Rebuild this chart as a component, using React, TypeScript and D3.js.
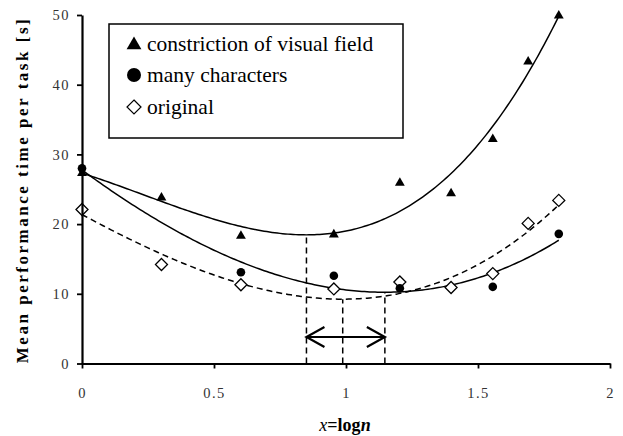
import React, { useRef, useEffect } from 'react';
import * as d3 from 'd3';

// x = log n
const logN = [0, 0.301, 0.602, 0.954, 1.204, 1.398, 1.556, 1.69, 1.806];
const visualField = [27.3, 23.8, 18.3, 18.5, 25.9, 24.4, 32.2, 43.3, 49.9];
const manyCharsX = [0, 0.602, 0.954, 1.204, 1.556, 1.806];
const manyChars = [28.0, 13.1, 12.6, 10.8, 11.0, 18.6];
const original = [22.1, 14.2, 11.3, 10.7, 11.7, 10.9, 12.9, 20.1, 23.4];

const xTicks = [0, 0.5, 1, 1.5, 2];
const yTicks = [0, 10, 20, 30, 40, 50];
const legendLabels = ['constriction of visual field', 'many characters', 'original'];
const arrowLevel = 3.8;

const SERIF = "'Liberation Serif', 'Times New Roman', 'DejaVu Serif', serif";

// least squares cubic (excel style polynomial trendline)
function cubicFit(xs: number[], ys: number[]): number[] {
  const n = 4;
  const A = Array.from({ length: n }, () => new Array(n + 1).fill(0));
  xs.forEach((x, k) => {
    for (let i = 0; i < n; i++) {
      for (let j = 0; j < n; j++) A[i][j] += Math.pow(x, i + j);
      A[i][n] += Math.pow(x, i) * ys[k];
    }
  });
  for (let i = 0; i < n; i++) {
    let p = i;
    for (let r = i + 1; r < n; r++) if (Math.abs(A[r][i]) > Math.abs(A[p][i])) p = r;
    [A[i], A[p]] = [A[p], A[i]];
    for (let r = 0; r < n; r++) {
      if (r === i) continue;
      const f = A[r][i] / A[i][i];
      for (let c = i; c <= n; c++) A[r][c] -= f * A[i][c];
    }
  }
  return A.map((row, i) => row[n] / row[i]);
}

const evalPoly = (c: number[], x: number) => c[0] + c[1] * x + c[2] * x * x + c[3] * x * x * x;

const polyMin = (c: number[]) => {
  const a = 3 * c[3], b = 2 * c[2], cc = c[1];
  return (-b + Math.sqrt(b * b - 4 * a * cc)) / (2 * a);
};

const Chart: React.FC = () => {
  const svgRef = useRef<SVGSVGElement | null>(null);

  useEffect(() => {
    if (!svgRef.current) return;
    const svg = d3.select(svgRef.current);
    svg.selectAll('*').remove();

    const x = d3.scaleLinear().domain([0, 2]).range([82, 610]);
    const y = d3.scaleLinear().domain([0, 50]).range([363.5, 15]);

    // fits
    const fitTri = cubicFit(logN, visualField);
    const fitCirc = cubicFit(manyCharsX, manyChars);
    const fitDia = cubicFit(logN, original);
    const xMax = d3.max(logN) as number;
    const samples = d3.range(0, xMax + 0.0001, 0.01).concat([xMax]);

    const line = (c: number[]) =>
      d3.line<number>().x(d => x(d)).y(d => y(evalPoly(c, d)))(samples);

    // minimum markers (dashed verticals)
    const mins = [fitTri, fitDia, fitCirc].map(c => {
      const m = polyMin(c);
      return { x: m, y: evalPoly(c, m) };
    });
    svg.append('g')
      .selectAll('line')
      .data(mins)
      .join('line')
      .attr('x1', d => x(d.x)).attr('x2', d => x(d.x))
      .attr('y1', y(0)).attr('y2', d => y(d.y))
      .attr('stroke', '#000').attr('stroke-width', 1.5)
      .attr('stroke-dasharray', '6,4');

    // arrow between the outer minima
    const ax1 = x(mins[0].x), ax2 = x(mins[2].x), ay = y(arrowLevel);
    svg.append('path')
      .attr('d', `M${ax1},${ay}H${ax2}M${ax1 + 18},${ay - 10}L${ax1},${ay}L${ax1 + 18},${ay + 10}M${ax2 - 18},${ay - 10}L${ax2},${ay}L${ax2 - 18},${ay + 10}`)
      .attr('fill', 'none').attr('stroke', '#000').attr('stroke-width', 2.2);

    // trend curves
    svg.append('path').attr('d', line(fitTri)!).attr('fill', 'none').attr('stroke', '#000').attr('stroke-width', 1.5);
    svg.append('path').attr('d', line(fitCirc)!).attr('fill', 'none').attr('stroke', '#000').attr('stroke-width', 1.5);
    svg.append('path').attr('d', line(fitDia)!).attr('fill', 'none').attr('stroke', '#000').attr('stroke-width', 1.5)
      .attr('stroke-dasharray', '6,4');

    // markers
    const tri = d3.symbol().type(d3.symbolTriangle).size(42);
    const dia = (s: number) => `M0,${-s}L${s},0L0,${s}L${-s},0Z`;

    svg.append('g').selectAll('path')
      .data(logN.map((v, i) => [v, original[i]]))
      .join('path')
      .attr('transform', d => `translate(${x(d[0])},${y(d[1])})`)
      .attr('d', dia(6))
      .attr('fill', '#fff').attr('stroke', '#000').attr('stroke-width', 1.3);

    svg.append('g').selectAll('circle')
      .data(manyCharsX.map((v, i) => [v, manyChars[i]]))
      .join('circle')
      .attr('cx', d => x(d[0])).attr('cy', d => y(d[1])).attr('r', 4.3)
      .attr('fill', '#000');

    svg.append('g').selectAll('path')
      .data(logN.map((v, i) => [v, visualField[i]]))
      .join('path')
      .attr('transform', d => `translate(${x(d[0])},${y(d[1])})`)
      .attr('d', tri()!)
      .attr('fill', '#000');

    // axes
    const xAxis = svg.append('g')
      .attr('transform', `translate(0,${y(0)})`)
      .call(d3.axisBottom(x).tickValues(xTicks).tickSize(5).tickSizeOuter(0).tickPadding(19)
        .tickFormat(d => String(d)));
    const yAxis = svg.append('g')
      .attr('transform', `translate(${x(0)},0)`)
      .call(d3.axisLeft(y).tickValues(yTicks).tickSize(5).tickSizeOuter(0).tickPadding(7));
    [xAxis, yAxis].forEach(g => {
      g.attr('font-family', null).attr('font-size', null);
      g.select('.domain').attr('stroke', '#000').attr('stroke-width', 2.2);
      g.selectAll('.tick line').attr('stroke', '#000').attr('stroke-width', 1.8);
      g.selectAll('.tick text')
        .style('font-family', SERIF).style('font-size', '14.5px')
        .style('letter-spacing', '1.5px').attr('fill', '#333');
    });

    // axis titles
    svg.append('text')
      .attr('transform', `translate(28,${(y(0) + y(50)) / 2 + 2}) rotate(-90)`)
      .attr('text-anchor', 'middle')
      .style('font-family', SERIF)
      .style('font-weight', 'bold').style('font-size', '17px')
      .attr('textLength', 344).attr('lengthAdjust', 'spacing')
      .text('Mean performance time per task [s]');

    const xt = svg.append('text')
      .attr('x', 345).attr('y', 431)
      .attr('text-anchor', 'middle')
      .style('font-family', SERIF)
      .style('font-size', '18px').style('font-weight', 'bold');
    xt.append('tspan').style('font-style', 'italic').style('font-weight', 'normal').text('x');
    xt.append('tspan').text('=log');
    xt.append('tspan').style('font-style', 'italic').text('n');

    // legend
    const lg = svg.append('g');
    lg.append('rect')
      .attr('x', 109).attr('y', 24).attr('width', 294).attr('height', 114)
      .attr('fill', '#fff').attr('stroke', '#000').attr('stroke-width', 1.5);
    const rowY = [44, 75, 107];
    const items = lg.selectAll('g.item')
      .data(legendLabels)
      .join('g')
      .attr('class', 'item')
      .attr('transform', (d, i) => `translate(134,${rowY[i]})`);
    items.each(function (d, i) {
      const g = d3.select(this);
      if (i === 0) g.append('path').attr('d', d3.symbol().type(d3.symbolTriangle).size(95)()!).attr('transform', 'translate(0,1)').attr('fill', '#000');
      if (i === 1) g.append('circle').attr('r', 7).attr('fill', '#000');
      if (i === 2) g.append('path').attr('d', dia(7)).attr('fill', '#fff').attr('stroke', '#000').attr('stroke-width', 1.2);
      g.append('text')
        .attr('x', 13).attr('y', 7)
        .style('font-family', SERIF)
        .style('font-size', '21.5px')
        .text(d);
    });
  }, []);

  return (
    <svg ref={svgRef} width={623} height={436}
      style={{ position: 'absolute', left: 0, top: 0, background: '#fff' }} />
  );
};

export default function App() {
  return <Chart />;
}
